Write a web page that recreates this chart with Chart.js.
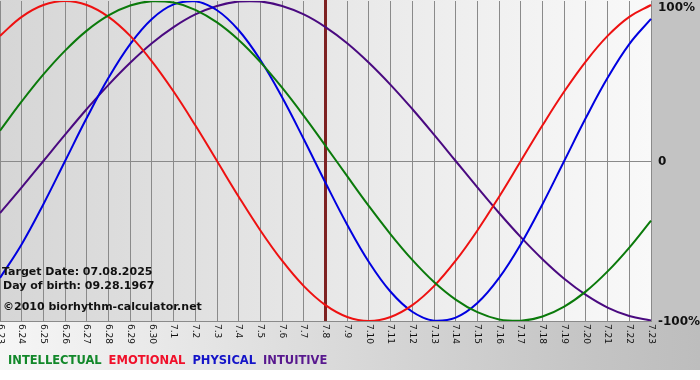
<!DOCTYPE html>
<html>
<head>
<meta charset="utf-8">
<script src="https://cdn.jsdelivr.net/npm/chart.js@4/dist/chart.umd.min.js"></script>
<style>
html,body{margin:0;padding:0;background:#fff;}
#wrap{width:700px;height:380px;position:relative;}
</style>
</head>
<body>
<div id="wrap"><canvas id="c"></canvas></div>
<script>
const categories = ['6.23','6.24','6.25','6.26','6.27','6.28','6.29','6.30','7.1','7.2','7.3','7.4','7.5','7.6','7.7','7.8','7.9','7.10','7.11','7.12','7.13','7.14','7.15','7.16','7.17','7.18','7.19','7.20','7.21','7.22','7.23'];
const intellectual = [18.9, 37.2, 54.1, 69.0, 81.5, 91.0, 97.2, 99.9, 99.0, 94.5, 86.6, 75.6, 61.8, 45.8, 28.2, 9.5, -9.5, -28.2, -45.8, -61.8, -75.6, -86.6, -94.5, -99.0, -99.9, -97.2, -91.0, -81.5, -69.0, -54.1, -37.2];
const emotional = [78.2, 90.1, 97.5, 100, 97.5, 90.1, 78.2, 62.3, 43.4, 22.3, 0, -22.3, -43.4, -62.3, -78.2, -90.1, -97.5, -100, -97.5, -90.1, -78.2, -62.3, -43.4, -22.3, 0, 22.3, 43.4, 62.3, 78.2, 90.1, 97.5];
const physical = [-73.1, -52.0, -27.0, 0, 27.0, 52.0, 73.1, 88.8, 97.9, 99.8, 94.2, 81.7, 63.1, 39.8, 13.6, -13.6, -39.8, -63.1, -81.7, -94.2, -99.8, -97.9, -88.8, -73.1, -52.0, -27.0, 0, 27.0, 52.0, 73.1, 88.8];
const intuitive = [-32.5, -16.5, 0, 16.5, 32.5, 47.6, 61.4, 73.6, 83.7, 91.6, 96.9, 99.7, 99.7, 96.9, 91.6, 83.7, 73.6, 61.4, 47.6, 32.5, 16.5, 0, -16.5, -32.5, -47.6, -61.4, -73.6, -83.7, -91.6, -96.9, -99.7];
const seriesNames = ['INTELLECTUAL', 'EMOTIONAL', 'PHYSICAL', 'INTUITIVE'];
const yTickValues = [100, 0, -100];
const yTickLabels = ['100%', '0', '-100%'];
const targetLabel = '7.8';
const infoLines = ['Target Date: 07.08.2025', 'Day of birth: 09.28.1967', '©2010 biorhythm-calculator.net'];

const lineColors = ['#0b7a0b', '#ee1111', '#0000e0', '#4a0a80'];
const legendColors = ['#12882a', '#f0102a', '#1414c8', '#58188e'];

const bgPlugin = {
  id: 'bg',
  beforeDraw(chart) {
    const ctx = chart.ctx, W = chart.width, H = chart.height, a = chart.chartArea;
    ctx.save();
    let g = ctx.createLinearGradient(0, 0, W, 0);
    g.addColorStop(0, '#f6f6f6');
    g.addColorStop(0.85, '#c4c4c4');
    g.addColorStop(1, '#bdbdbd');
    ctx.fillStyle = g;
    ctx.fillRect(0, 0, W, H);
    ctx.fillStyle = '#ffffff';
    ctx.fillRect(0, 370, W, H - 370);
    ctx.fillStyle = '#c3c3c3';
    ctx.fillRect(a.right, 0, W - a.right, a.bottom);
    g = ctx.createLinearGradient(a.left, 0, a.right, 0);
    g.addColorStop(0, '#d6d6d6');
    g.addColorStop(1, '#f9f9f9');
    ctx.fillStyle = g;
    ctx.fillRect(0, 0, a.right, a.bottom);
    ctx.restore();
  },
  beforeDatasetsDraw(chart) {
    const ctx = chart.ctx, a = chart.chartArea, xs = chart.scales.x;
    const x = xs.getPixelForValue(categories.indexOf(targetLabel));
    ctx.save();
    ctx.strokeStyle = '#7e2222';
    ctx.lineWidth = 3;
    ctx.beginPath();
    ctx.moveTo(x, 0);
    ctx.lineTo(x, a.bottom);
    ctx.stroke();
    ctx.restore();
  },
  afterDraw(chart) {
    const ctx = chart.ctx, a = chart.chartArea, xs = chart.scales.x, ys = chart.scales.y;
    ctx.save();
    ctx.fillStyle = '#111';
    ctx.font = '9px "DejaVu Sans"';
    ctx.textAlign = 'left';
    ctx.textBaseline = 'middle';
    categories.forEach((lab, i) => {
      const x = xs.getPixelForValue(i);
      ctx.save();
      ctx.translate(x, a.bottom + 3);
      ctx.rotate(Math.PI / 2);
      ctx.fillText(lab, 0, 0);
      ctx.restore();
    });
    ctx.font = 'bold 12px "DejaVu Sans"';
    ctx.textBaseline = 'middle';
    yTickValues.forEach((v, i) => {
      let y = ys.getPixelForValue(v);
      y = Math.max(y, a.top + 6);
      y = Math.min(y, a.bottom + 1);
      ctx.fillText(yTickLabels[i], a.right + 7, y + 1);
    });
    ctx.font = 'bold 11px "DejaVu Sans"';
    ctx.fillStyle = '#111';
    ctx.fillText(infoLines[0], 2, 272);
    ctx.fillText(infoLines[1], 3, 286);
    ctx.fillText(infoLines[2], 3, 307);
    ctx.font = 'bold 11.5px "DejaVu Sans"';
    let lx = 8;
    chart.data.datasets.forEach((ds, i) => {
      ctx.fillStyle = legendColors[i];
      ctx.fillText(ds.label, lx, 361);
      lx += ctx.measureText(ds.label).width + 7;
    });
    ctx.restore();
  }
};

const seriesData = [intellectual, emotional, physical, intuitive];

new Chart(document.getElementById('c'), {
  type: 'line',
  data: {
    labels: categories,
    datasets: seriesNames.map((n, i) => ({
      label: n,
      data: seriesData[i],
      borderColor: lineColors[i],
      borderWidth: 2,
      pointRadius: 0,
      tension: 0.4,
      fill: false
    }))
  },
  options: {
    responsive: true,
    maintainAspectRatio: false,
    animation: false,
    layout: { padding: { left: 0, right: 49, top: 1, bottom: 59 } },
    plugins: { legend: { display: false }, tooltip: { enabled: false } },
    scales: {
      x: {
        type: 'category',
        offset: false,
        ticks: { display: false },
        grid: { color: '#8a8a8a', lineWidth: 1, drawTicks: false },
        border: { display: true, color: '#8a8a8a' }
      },
      y: {
        min: -100, max: 100,
        ticks: { display: false, stepSize: 100 },
        grid: {
          drawTicks: false,
          color: (c) => (c.tick && c.tick.value === 0) ? '#8a8a8a' : 'rgba(0,0,0,0)'
        },
        border: { display: false }
      }
    }
  },
  plugins: [bgPlugin]
});
</script>
</body>
</html>
